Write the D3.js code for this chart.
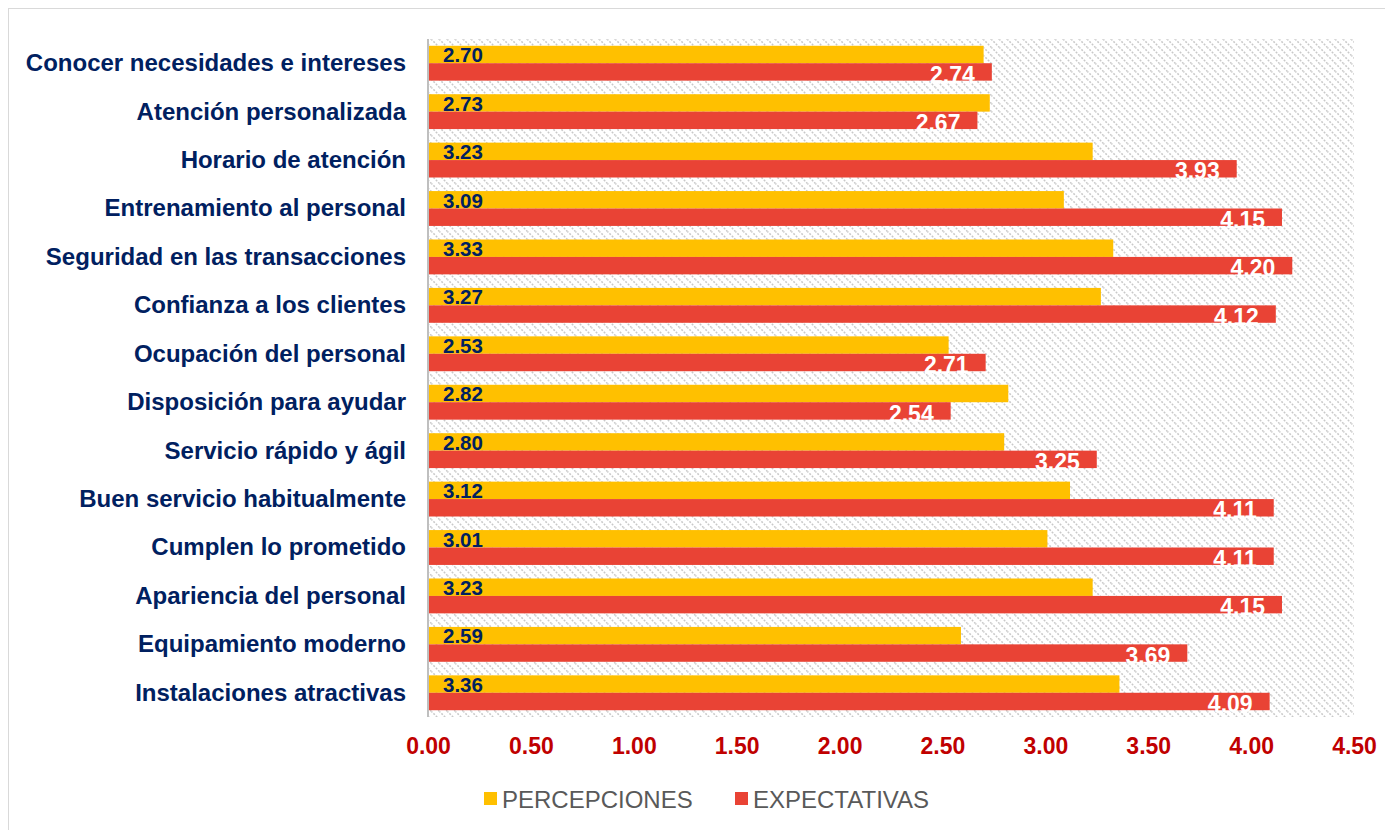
<!DOCTYPE html>
<html>
<head>
<meta charset="utf-8">
<script src="https://cdn.jsdelivr.net/npm/d3@7"></script>
<style>
  html, body { margin: 0; padding: 0; background: #ffffff; }
  svg { display: block; font-family: Arial, "Liberation Sans", sans-serif; }
</style>
</head>
<body>
<div id="chart"></div>
<script>
// Service-quality attributes, listed top to bottom
const categories = [
  "Conocer necesidades e intereses",
  "Atención personalizada",
  "Horario de atención",
  "Entrenamiento al personal",
  "Seguridad en las transacciones",
  "Confianza a los clientes",
  "Ocupación del personal",
  "Disposición para ayudar",
  "Servicio rápido y ágil",
  "Buen servicio habitualmente",
  "Cumplen lo prometido",
  "Apariencia del personal",
  "Equipamiento moderno",
  "Instalaciones atractivas"
];
const percepciones = [2.70, 2.73, 3.23, 3.09, 3.33, 3.27, 2.53, 2.82, 2.80, 3.12, 3.01, 3.23, 2.59, 3.36];
const expectativas = [2.74, 2.67, 3.93, 4.15, 4.20, 4.12, 2.71, 2.54, 3.25, 4.11, 4.11, 4.15, 3.69, 4.09];
const seriesNames = ["PERCEPCIONES", "EXPECTATIVAS"];
const xTicks = [0, 0.5, 1, 1.5, 2, 2.5, 3, 3.5, 4, 4.5];

const W = 1385, H = 830;
const plot = { left: 428, right: 1354, top: 39, bottom: 717 };
const colors = { perc: "#FFC000", exp: "#E94335" };
const navy = "#002060";

const svg = d3.select("#chart").append("svg")
  .attr("width", W).attr("height", H);

// dotted diagonal hatch for the plot background
const defs = svg.append("defs");
const pat = defs.append("pattern")
  .attr("id", "hatch")
  .attr("patternUnits", "userSpaceOnUse")
  .attr("width", 8).attr("height", 8);
pat.append("path")
  .attr("d", "M-1,-1 L9,9 M-1,7 L1,9 M7,-1 L9,1")
  .attr("stroke", "#c9c9c9").attr("stroke-width", 1.5)
  .attr("stroke-dasharray", "2,1.4");

// outer chart frame
svg.append("rect")
  .attr("x", 8.5).attr("y", 8.5)
  .attr("width", W + 10).attr("height", H + 10)
  .attr("fill", "none").attr("stroke", "#d9d9d9").attr("stroke-width", 1);

const x = d3.scaleLinear().domain([0, 4.5]).range([plot.left, plot.right]);
const y = d3.scaleBand().domain(categories).range([plot.top, plot.bottom]).paddingInner(0.28).paddingOuter(0.14);
const sub = d3.scaleBand().domain(seriesNames).range([0, y.bandwidth()]);

svg.append("rect")
  .attr("x", plot.left).attr("y", plot.top)
  .attr("width", plot.right - plot.left).attr("height", plot.bottom - plot.top)
  .attr("fill", "url(#hatch)");

const rows = categories.map((c, i) => ({ c, p: percepciones[i], e: expectativas[i] }));

const g = svg.append("g");
const row = g.selectAll("g.row").data(rows).join("g")
  .attr("class", "row")
  .attr("transform", d => `translate(0,${y(d.c)})`);

row.append("rect")
  .attr("x", x(0)).attr("y", sub("PERCEPCIONES"))
  .attr("width", d => x(d.p) - x(0)).attr("height", sub.bandwidth())
  .attr("fill", colors.perc);
row.append("rect")
  .attr("x", x(0)).attr("y", sub("EXPECTATIVAS"))
  .attr("width", d => x(d.e) - x(0)).attr("height", sub.bandwidth())
  .attr("fill", colors.exp);

// value labels: inside base for perceptions, inside end for expectations
row.append("text")
  .attr("x", x(0) + 15)
  .attr("y", sub("PERCEPCIONES") + sub.bandwidth() - 1)
  .attr("fill", navy).attr("font-weight", "bold").attr("font-size", 20.5)
  .text(d => d.p.toFixed(2));
row.append("text")
  .attr("x", d => x(d.e) - 17)
  .attr("y", sub("EXPECTATIVAS") + sub.bandwidth() + 2)
  .attr("text-anchor", "end")
  .attr("fill", "#ffffff").attr("font-weight", "bold").attr("font-size", 23)
  .text(d => d.e.toFixed(2));

// category axis
const yAxis = svg.append("g")
  .attr("transform", `translate(${plot.left},0)`)
  .call(d3.axisLeft(y).tickSize(0).tickPadding(22));
yAxis.select(".domain").attr("stroke", "#bfbfbf").attr("stroke-width", 2)
  .attr("d", `M0,${plot.top}V${plot.bottom}`);
yAxis.selectAll("text")
  .attr("font-family", "Arial, 'Liberation Sans', sans-serif")
  .attr("font-size", 24).attr("font-weight", "bold").attr("fill", navy)
  .attr("dy", "0.33em");

// value axis
const xAxis = svg.append("g")
  .attr("transform", `translate(0,${plot.bottom})`)
  .call(d3.axisBottom(x).tickValues(xTicks).tickFormat(d3.format(".2f")).tickSize(0).tickPadding(21));
xAxis.select(".domain").remove();
xAxis.selectAll("text")
  .attr("font-family", "Arial, 'Liberation Sans', sans-serif")
  .attr("font-size", 23).attr("font-weight", "bold").attr("fill", "#C00000");

// legend
const legend = svg.append("g").attr("transform", "translate(0,799)");
const legItems = [
  { name: seriesNames[0], color: colors.perc, x: 484 },
  { name: seriesNames[1], color: colors.exp, x: 735 }
];
const li = legend.selectAll("g").data(legItems).join("g")
  .attr("transform", d => `translate(${d.x},0)`);
li.append("rect").attr("x", 0).attr("y", -7).attr("width", 13).attr("height", 13)
  .attr("fill", d => d.color);
li.append("text").attr("x", 18).attr("y", 0).attr("dy", "0.36em")
  .attr("font-size", 24).attr("fill", "#595959")
  .text(d => d.name);
</script>
</body>
</html>
